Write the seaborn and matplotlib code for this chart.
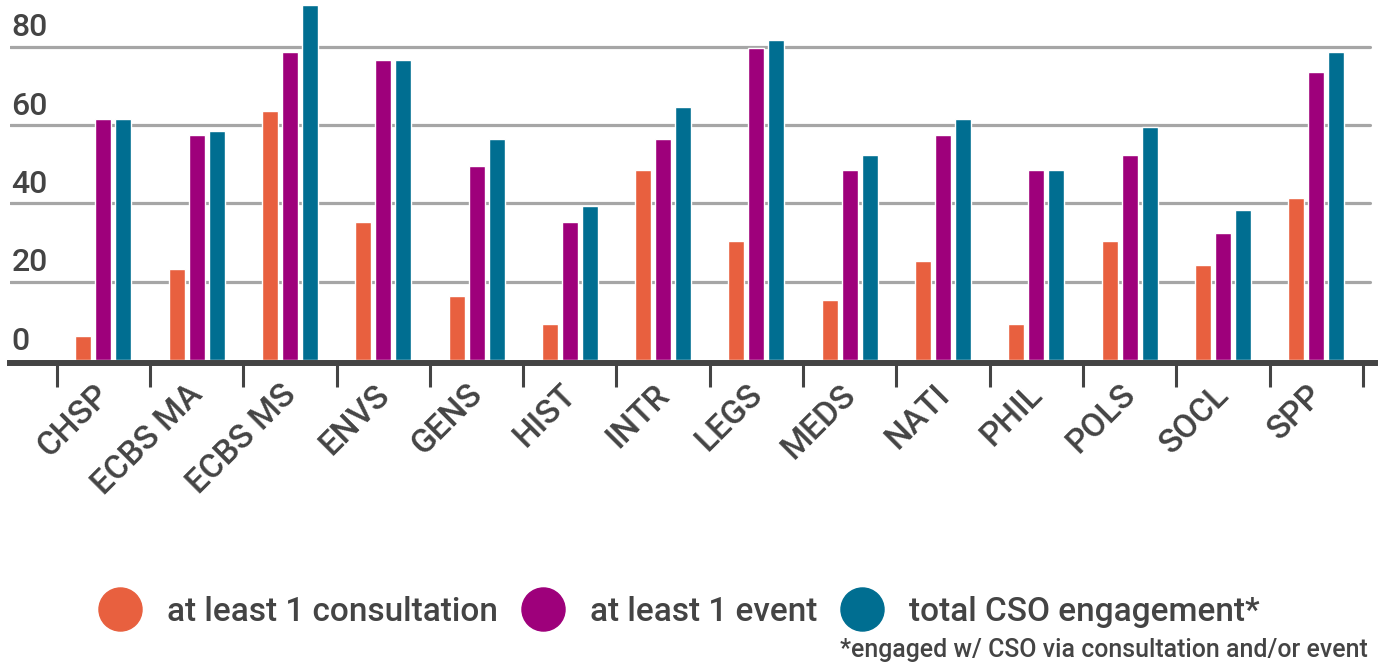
import numpy as np
import pandas as pd
import matplotlib
matplotlib.use("Agg")
import matplotlib.pyplot as plt
import matplotlib.transforms as mtrans
from matplotlib.lines import Line2D
import seaborn as sns

categories = ['CHSP', 'ECBS MA', 'ECBS MS', 'ENVS', 'GENS', 'HIST', 'INTR',
              'LEGS', 'MEDS', 'NATI', 'PHIL', 'POLS', 'SOCL', 'SPP']
consultation = [6.0, 23.2, 63.5, 35.2, 16.3, 9.1, 48.5, 30.3, 15.3, 25.2, 9.1, 30.3, 24.2, 41.3]
event = [61.5, 57.4, 78.6, 76.6, 49.5, 35.2, 56.4, 79.6, 48.5, 57.4, 48.5, 52.3, 32.4, 73.5]
total = [61.5, 58.4, 90.6, 76.6, 56.4, 39.3, 64.5, 81.7, 52.3, 61.5, 48.5, 59.4, 38.3, 78.6]
series_names = ['at least 1 consultation', 'at least 1 event', 'total CSO engagement*']
colors = ['#E8603F', '#9E007B', '#006E91']
y_ticks = [0, 20, 40, 60, 80]
y_tick_labels = ['0', '20', '40', '60', '80']
footnote = '*engaged w/ CSO via consultation and/or event'

sns.set_style('white')
plt.rcParams['font.family'] = ['Roboto', 'DejaVu Sans']
TXT = '#444444'

df = pd.DataFrame({
    'category': categories * 3,
    'value': consultation + event + total,
    'series': [series_names[0]] * len(categories) + [series_names[1]] * len(categories)
              + [series_names[2]] * len(categories),
})

W, H = 1382, 663
fig = plt.figure(figsize=(W / 100, H / 100), dpi=100)
ax = fig.add_axes([10 / W, 1 - 360 / H, 1365 / W, 360 / H])

sns.barplot(data=df, x='category', y='value', hue='series', hue_order=series_names,
            palette=colors, width=0.643, gap=0.2, saturation=1, legend=False,
            order=categories, ax=ax, zorder=3)

ax.set_xlim(-1.0, 13.63)
ax.set_ylim(0, 91.9)
ax.set_xlabel('')
ax.set_ylabel('')

# gridlines
for y in y_ticks[1:]:
    ax.axhline(y, xmin=0, xmax=1360 / 1365, color='#a6a6a6', lw=2.3, zorder=1)

# y labels above gridlines
ax.set_yticks([])
for y, lab in zip(y_ticks, y_tick_labels):
    ax.annotate(lab, xy=(0, y), xycoords=('axes fraction', 'data'),
                xytext=(1, 7.5), textcoords='offset points',
                ha='left', va='baseline', fontsize=23, color=TXT, fontweight='medium')

for s in ['top', 'left', 'right']:
    ax.spines[s].set_visible(False)
ax.spines['bottom'].set_position(('outward', 2.2))
ax.spines['bottom'].set_linewidth(4.3)
ax.spines['bottom'].set_color(TXT)

n = len(categories)
ax.set_xticks(np.arange(n))
ax.set_xticklabels(categories, rotation=45, ha='right', rotation_mode='anchor',
                   fontsize=24, color=TXT, fontweight='medium')
ax.set_xticks(np.arange(-0.5, n, 1), minor=True)
ax.tick_params(axis='x', which='major', bottom=True, length=0, pad=11)
ax.tick_params(axis='x', which='minor', bottom=True, length=17, width=2.2,
               color=TXT, direction='out')
offset = mtrans.ScaledTranslation(-10 / 100, 0, fig.dpi_scale_trans)
for lab in ax.get_xticklabels():
    lab.set_transform(lab.get_transform() + offset)

handles = [Line2D([], [], marker='o', ls='', markersize=31, color=c) for c in colors]
fig.legend(handles, series_names, loc='center', bbox_to_anchor=(679 / W, 1 - 612 / H),
           ncol=3, frameon=False, prop={'size': 24, 'weight': 'medium'}, labelcolor=TXT,
           handlelength=1.3, handletextpad=0.77, columnspacing=0.68,
           borderpad=0, borderaxespad=0)

fig.text(1368 / W, 1 - 650 / H, footnote, ha='right', va='center', fontsize=17.9,
         color=TXT, fontweight='medium')

fig.savefig('out.png', dpi=100)
